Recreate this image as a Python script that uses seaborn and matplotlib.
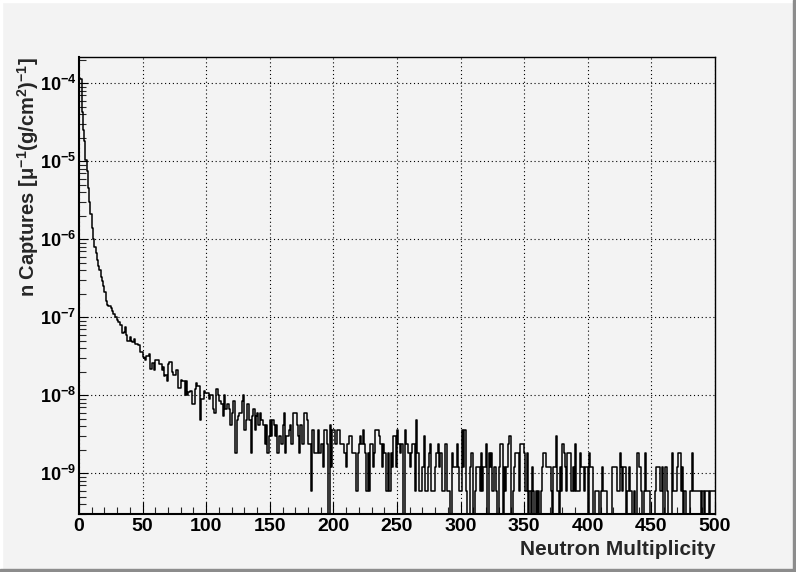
import numpy as np
import pandas as pd
import matplotlib
matplotlib.use("Agg")
import matplotlib.pyplot as plt
import seaborn as sns
from matplotlib.ticker import FixedLocator, LogLocator, NullFormatter, MultipleLocator
from matplotlib.patches import Rectangle

# ---------------- data ----------------
x_min, x_max = 0, 500
y_min, y_max = 3.0e-10, 2.17e-4

# bins 0..86 : values per unit multiplicity
head_values = [
    1.16e-4, 1.12e-4, 4.3e-5, 2.5e-5, 1.8e-5, 1.05e-5, 7.5e-6, 4.5e-6, 3.0e-6, 2.1e-6,
    1.4e-6, 1.0e-6, 8.0e-7, 6.6e-7, 5.4e-7, 4.5e-7, 4.0e-7, 3.3e-7, 2.9e-7, 2.5e-7,
    2.1e-7, 1.6e-7, 1.45e-7, 1.4e-7, 1.4e-7, 1.3e-7, 1.2e-7, 1.1e-7, 1.0e-7, 1.0e-7,
    9.2e-8, 8.8e-8, 8.0e-8, 8.0e-8, 6.2e-8, 6.5e-8, 7.5e-8, 6.0e-8, 4.9e-8, 4.9e-8,
    5.6e-8, 5.0e-8, 4.8e-8, 5.2e-8, 4.5e-8, 4.5e-8, 4.4e-8, 4.4e-8, 3.6e-8, 3.6e-8,
    3.1e-8, 3.0e-8, 2.8e-8, 3.2e-8, 3.2e-8, 3.4e-8, 2.2e-8, 2.6e-8, 2.6e-8, 2.1e-8,
    2.8e-8, 2.8e-8, 2.8e-8, 2.5e-8, 2.5e-8, 2.1e-8, 2.3e-8, 1.77e-8, 1.8e-8, 1.5e-8,
    2.5e-8, 2.7e-8, 2.7e-8, 2.0e-8, 1.8e-8, 1.8e-8, 2.1e-8, 2.1e-8, 1.23e-8, 1.23e-8,
    1.55e-8, 1.5e-8, 1.5e-8, 1.0e-8, 1.5e-8, 1.0e-8, 1.1e-8,
]

# value of a single entry in the histogram
count_unit = 6.0e-10

# bins 87..499 : number of entries per bin
tail_counts = [
    19, 19, 13,                                  # 87-89
    13, 20, 24, 22, 22, 8, 15, 15, 19, 18,       # 90
    18, 18, 15, 17, 17, 11, 10, 10, 20, 17,      # 100
    14, 14, 13, 9, 17, 11, 13, 13, 11, 7,        # 110
    10, 14, 14, 3, 8, 9, 10, 10, 14, 17,         # 120
    6, 8, 13, 13, 8, 3, 9, 11, 6, 9,             # 130
    10, 7, 10, 8, 8, 7, 4, 7, 3, 5,              # 140
    8, 5, 8, 7, 5, 7, 3, 5, 5, 4,                # 150
    7, 10, 3, 5, 5, 6, 7, 4, 10, 10,             # 160
    10, 7, 5, 3, 7, 4, 4, 10, 10, 8,             # 170
    4, 4, 1, 6, 6, 3, 3, 3, 6, 3,                # 180
    4, 4, 2, 6, 6, 4, 0, 7, 2, 6,                # 190
    6, 4, 4, 6, 6, 4, 4, 4, 3, 3,                # 200
    2, 4, 5, 5, 5, 3, 3, 3, 1, 3,                # 210
    4, 5, 4, 6, 4, 3, 1, 3, 1, 4,                # 220
    4, 2, 3, 6, 6, 6, 5, 4, 2, 4,                # 230
    3, 1, 1, 3, 1, 3, 2, 5, 5, 2,                # 240
    6, 4, 3, 4, 4, 0, 6, 4, 4, 3,                # 250
    2, 3, 4, 4, 1, 8, 3, 1, 1, 1,                # 260
    2, 5, 1, 1, 2, 3, 4, 1, 1, 1,                # 270
    2, 3, 4, 2, 3, 1, 1, 1, 4, 1,                # 280
    1, 1, 0, 3, 2, 2, 2, 4, 2, 1,                # 290
    1, 6, 2, 6, 1, 0, 0, 2, 3, 3,                # 300
    0, 1, 2, 2, 2, 1, 3, 1, 2, 2,                # 310
    4, 0, 3, 2, 3, 1, 2, 2, 1, 0,                # 320
    2, 4, 4, 0, 2, 1, 2, 4, 5, 5,                # 330
    0, 1, 2, 3, 3, 3, 1, 4, 4, 4,                # 340
    3, 1, 3, 0, 1, 0, 2, 1, 0, 1,                # 350
    0, 1, 0, 1, 2, 3, 3, 2, 2, 2,                # 360
    2, 1, 0, 2, 2, 5, 1, 0, 2, 1,                # 370
    4, 3, 2, 1, 3, 3, 3, 1, 2, 1,                # 380
    4, 1, 1, 1, 3, 2, 2, 1, 2, 2,                # 390
    0, 3, 2, 2, 0, 0, 1, 1, 1, 0,                # 400
    1, 2, 1, 1, 1, 0, 0, 0, 0, 2,                # 410
    2, 2, 2, 1, 1, 3, 2, 1, 2, 2,                # 420
    0, 1, 2, 1, 1, 0, 1, 0, 0, 3,                # 430
    2, 2, 1, 0, 1, 3, 1, 1, 1, 0,                # 440
    0, 0, 0, 1, 2, 2, 2, 1, 2, 0,                # 450
    0, 2, 1, 0, 0, 0, 3, 1, 1, 1,                # 460
    2, 3, 3, 1, 2, 0, 1, 0, 0, 0,                # 470
    1, 1, 3, 1, 1, 1, 1, 1, 1, 0,                # 480
    1, 0, 1, 1, 1, 0, 1, 1, 1, 1,                # 490
]

x_ticks = [0, 50, 100, 150, 200, 250, 300, 350, 400, 450, 500]
x_tick_labels = ["0", "50", "100", "150", "200", "250", "300", "350", "400", "450", "500"]
y_ticks = [1e-9, 1e-8, 1e-7, 1e-6, 1e-5, 1e-4]
y_tick_labels = [r"$\mathbf{10^{-9}}$", r"$\mathbf{10^{-8}}$", r"$\mathbf{10^{-7}}$",
                 r"$\mathbf{10^{-6}}$", r"$\mathbf{10^{-5}}$", r"$\mathbf{10^{-4}}$"]
x_label = "Neutron Multiplicity"
y_label = r"n Captures [μ$^{\mathbf{-1}}$(g/cm$^{\mathbf{2}}$)$^{\mathbf{-1}}$]"

# ---------------- assemble ----------------
values = np.concatenate([np.array(head_values, dtype=float),
                         np.array(tail_counts, dtype=float) * count_unit])
n_bins = len(values)
bin_width = (x_max - x_min) / n_bins
centers = x_min + bin_width * (np.arange(n_bins) + 0.5)
# empty bins are drawn down to (below) the bottom of the log axis, as ROOT does
plot_values = np.where(values > 0, values, 1e-14)
df = pd.DataFrame({"multiplicity": centers, "captures": plot_values})

# ---------------- style ----------------
sns.set_style("ticks")
bg = "#f3f3f3"
plt.rcParams["font.family"] = ["Liberation Sans", "DejaVu Sans"]
plt.rcParams["font.weight"] = "bold"
plt.rcParams["mathtext.fontset"] = "custom"
plt.rcParams["mathtext.rm"] = "Liberation Sans:bold"
plt.rcParams["mathtext.bf"] = "Liberation Sans:bold"
plt.rcParams["mathtext.it"] = "Liberation Sans:bold:italic"
plt.rcParams["mathtext.sf"] = "Liberation Sans:bold"

W, H = 796, 572
fig = plt.figure(figsize=(W / 100, H / 100), dpi=100, facecolor=bg)
L, R, T, B = 79, 715, 57, 514
ax = fig.add_axes([L / W, 1 - B / H, (R - L) / W, (B - T) / H])
ax.set_facecolor(bg)

sns.histplot(data=df, x="multiplicity", weights="captures",
             binwidth=bin_width, binrange=(x_min, x_max),
             element="step", fill=False, color="black", linewidth=1.1, ax=ax)

ax.set_yscale("log")
ax.set_xlim(x_min, x_max)
ax.set_ylim(y_min, y_max)

ax.xaxis.set_major_locator(FixedLocator(x_ticks))
ax.set_xticklabels(x_tick_labels)
ax.xaxis.set_minor_locator(MultipleLocator(10))
ax.yaxis.set_major_locator(FixedLocator(y_ticks))
ax.set_yticklabels(y_tick_labels)
ax.yaxis.set_minor_locator(LogLocator(base=10, subs=np.arange(2, 10), numticks=20))
ax.yaxis.set_minor_formatter(NullFormatter())

ax.tick_params(axis="x", which="major", direction="in", length=8.6, width=0.8,
               labelsize=14, pad=3, colors="black")
ax.tick_params(axis="x", which="minor", direction="in", length=5.0, width=0.8)
ax.tick_params(axis="y", which="major", direction="in", length=6.7, width=0.8,
               labelsize=13, pad=2, colors="black")
ax.tick_params(axis="y", which="minor", direction="in", length=4.8, width=0.8)
for lab in ax.get_xticklabels() + ax.get_yticklabels():
    lab.set_fontweight("bold")

ax.grid(True, which="major", axis="both", color="black", linestyle=(0, (1, 2.5)),
        linewidth=0.8)

for side in ["top", "right"]:
    ax.spines[side].set_linewidth(1.0)
    ax.spines[side].set_color("black")
for side in ["left", "bottom"]:
    ax.spines[side].set_linewidth(1.5)
    ax.spines[side].set_color("black")

ax.set_xlabel(x_label, fontsize=15, fontweight="bold", loc="right")
ax.xaxis.set_label_coords(1.0, -(540 - 514) / (B - T))
ax.xaxis.label.set_verticalalignment("top")
ax.set_ylabel(y_label, fontsize=14.5, fontweight="bold", loc="top")
ax.yaxis.set_label_coords(-(79 - 41) / (R - L), 1.0)

# ROOT-style bevelled canvas border
def px_rect(x0, y0, w, h, color):
    fig.patches.append(Rectangle((x0 / W, 1 - (y0 + h) / H), w / W, h / H,
                                 transform=fig.transFigure, color=color, zorder=10))

px_rect(0, 0, W, 2, "white")
px_rect(0, 0, 2, H, "white")
px_rect(W - 3, 0, 3, H, "#8c8c8c")
px_rect(0, H - 3, W, 3, "#8c8c8c")

fig.savefig("out.png", dpi=100, facecolor=bg)
